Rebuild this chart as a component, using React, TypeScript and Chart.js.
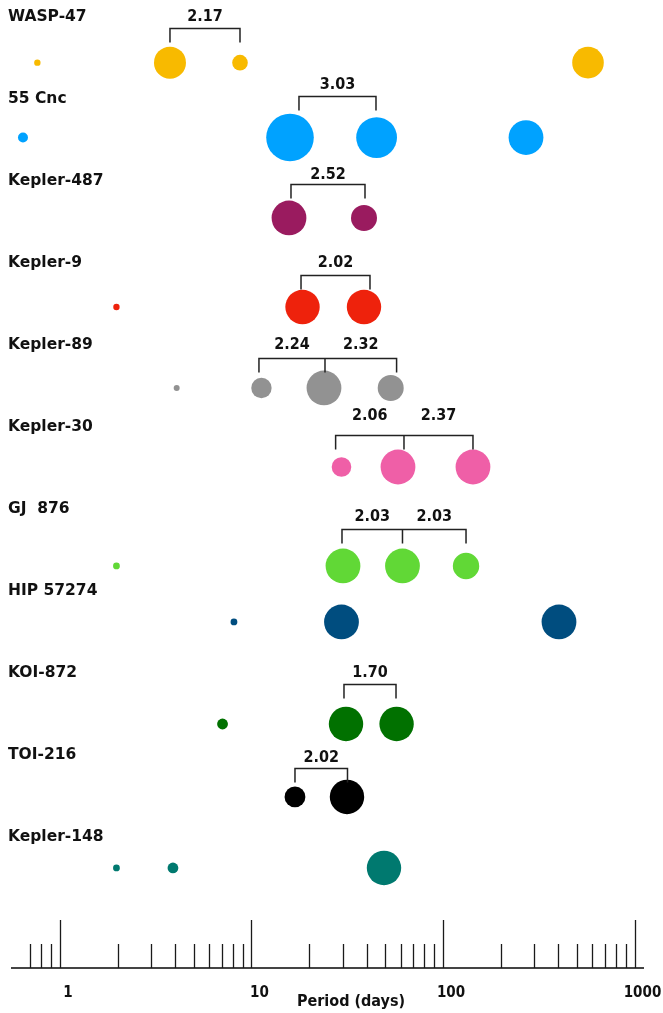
import React, { useEffect, useRef } from "react";
import { Chart, registerables } from "chart.js";

Chart.register(...registerables);

// ---- data ----
const systemNames = [
  "WASP-47",
  "55 Cnc",
  "Kepler-487",
  "Kepler-9",
  "Kepler-89",
  "Kepler-30",
  "GJ  876",
  "HIP 57274",
  "KOI-872",
  "TOI-216",
  "Kepler-148",
];

// vertical row (in row units) on which each system's planets sit
const planetRow = [0.557, 1.47, 2.451, 3.537, 4.524, 5.488, 6.695, 7.378, 8.622, 9.512, 10.378];

// orbital periods (days)
const planetPeriods: number[][] = [
  [0.762, 3.753, 8.71, 571.7],
  [0.641, 15.89, 45.01, 271.3],
  [15.7, 38.68],
  [1.972, 18.47, 38.68],
  [4.068, 11.27, 23.91, 53.33],
  [29.51, 58.21, 143.4],
  [1.972, 30.05, 61.44, 131.9],
  [8.1, 29.51, 403.4],
  [7.06, 31.16, 57.24],
  [16.87, 31.53],
  [1.972, 3.89, 49.19],
];

// relative planet sizes
const planetSizes: number[][] = [
  [1.6, 8.0, 3.9, 7.9],
  [2.5, 11.9, 10.2, 8.7],
  [8.7, 6.5],
  [1.6, 8.6, 8.6],
  [1.5, 5.1, 8.7, 6.5],
  [4.9, 8.7, 8.7],
  [1.7, 8.7, 8.7, 6.6],
  [1.7, 8.7, 8.7],
  [2.7, 8.6, 8.6],
  [5.2, 8.6],
  [1.7, 2.7, 8.6],
];

// period-ratio brackets
const bracketSystem = [0, 1, 2, 3, 4, 5, 6, 8, 9];
const bracketPeriods: number[][] = [
  [3.753, 8.71],
  [17.7, 44.68],
  [16.08, 39.15],
  [18.14, 41.57],
  [10.94, 24.2, 57.24],
  [27.5, 62.56, 143.4],
  [29.69, 61.44, 131.9],
  [30.41, 56.84],
  [16.87, 31.72],
];
const bracketRow = [0.134, 0.963, 2.037, 3.146, 4.159, 5.098, 6.244, 8.134, 9.159];
const ratioLabels: string[][] = [
  ["2.17"],
  ["3.03"],
  ["2.52"],
  ["2.02"],
  ["2.24", "2.32"],
  ["2.06", "2.37"],
  ["2.03", "2.03"],
  ["1.70"],
  ["2.02"],
];
const ratioRow = [0, 0.829, 1.927, 3.0, 4.0, 4.866, 6.1, 8.0, 9.037];

// axis
const tickValues = [
  0.7, 0.8, 0.9, 1, 2, 3, 4, 5, 6, 7, 8, 9, 10, 20, 30, 40, 50, 60, 70, 80, 90, 100,
  200, 300, 400, 500, 600, 700, 800, 900, 1000,
];
const tickLabels = [1, 10, 100, 1000];
const axisTitle = "Period (days)";
const xMin = 0.5617;
const xMax = 1107.5;

// ---- styles ----
const systemColors = [
  "#F8BA00",
  "#00A2FF",
  "#9A1B5F",
  "#EE220C",
  "#929292",
  "#EF5FA7",
  "#61D836",
  "#004D7F",
  "#017100",
  "#000000",
  "#00796F",
];
const CONDENSED = '"DejaVu Sans Condensed", "DejaVu Sans", sans-serif';
const SIZE_SCALE = 2;

const isMajor = (v: number) => {
  const lg = Math.log10(v);
  return Math.abs(lg - Math.round(lg)) < 1e-6;
};

const overlayPlugin = {
  id: "overlay",
  afterDraw(chart: any) {
    const ctx = chart.ctx as CanvasRenderingContext2D;
    const xs = chart.scales.x;
    const ys = chart.scales.y;
    const area = chart.chartArea;
    ctx.save();

    // upward tick marks
    ctx.strokeStyle = "#1a1a1a";
    ctx.lineWidth = 1.3;
    const base = area.bottom;
    xs.ticks.forEach((t: any) => {
      const px = Math.round(xs.getPixelForValue(t.value)) + 0.5;
      ctx.beginPath();
      ctx.moveTo(px, base);
      ctx.lineTo(px, base - (isMajor(t.value) ? 48 : 24));
      ctx.stroke();
    });

    // system names
    ctx.fillStyle = "#111";
    ctx.textAlign = "left";
    ctx.textBaseline = "middle";
    ctx.font = 'bold 15.5px "DejaVu Sans", sans-serif';
    systemNames.forEach((name, i) => {
      ctx.fillText(name, area.left - 4, ys.getPixelForValue(i));
    });

    // brackets and ratios
    ctx.strokeStyle = "#222";
    ctx.lineWidth = 1.5;
    ctx.font = "bold 16px " + CONDENSED;
    ctx.textAlign = "center";
    bracketSystem.forEach((s, b) => {
      const pts = bracketPeriods[b].map((p) => xs.getPixelForValue(p));
      const top = Math.round(ys.getPixelForValue(bracketRow[b])) + 0.5;
      const drop = 14;
      ctx.beginPath();
      ctx.moveTo(pts[0], top + drop);
      ctx.lineTo(pts[0], top);
      ctx.lineTo(pts[pts.length - 1], top);
      ctx.lineTo(pts[pts.length - 1], top + drop);
      for (let k = 1; k < pts.length - 1; k++) {
        ctx.moveTo(pts[k], top);
        ctx.lineTo(pts[k], top + drop);
      }
      ctx.stroke();
      const ly = ys.getPixelForValue(ratioRow[b]);
      ratioLabels[b].forEach((txt, k) => {
        ctx.fillText(txt, (pts[k] + pts[k + 1]) / 2, ly);
      });
    });

    // axis title
    ctx.font = "bold 16px " + CONDENSED;
    ctx.textAlign = "center";
    ctx.fillText(axisTitle, (area.left + area.right) / 2 + 23.5, 1002);
    ctx.restore();
  },
};

export default function App() {
  const ref = useRef<HTMLCanvasElement | null>(null);
  useEffect(() => {
    if (!ref.current) return;
    const datasets = systemNames.map((name, i) => ({
      label: name,
      data: planetPeriods[i].map((p, j) => ({
        x: p,
        y: planetRow[i],
        r: planetSizes[i][j] * SIZE_SCALE,
      })),
      backgroundColor: systemColors[i],
      borderWidth: 0,
      hoverRadius: 0,
      clip: false as any,
    }));
    const chart = new Chart(ref.current, {
      type: "bubble",
      data: { datasets },
      options: {
        animation: false,
        responsive: false,
        events: [],
        layout: { autoPadding: false, padding: { left: 12, right: 20, top: 0, bottom: -5 } },
        plugins: { legend: { display: false }, tooltip: { enabled: false } },
        scales: {
          x: {
            type: "logarithmic",
            min: xMin,
            max: xMax,
            afterBuildTicks: (scale: any) => {
              scale.ticks = tickValues.map((v) => ({ value: v }));
            },
            grid: { display: false, drawTicks: false },
            border: { display: true, color: "#444", width: 2 },
            ticks: {
              autoSkip: false,
              maxRotation: 0,
              minRotation: 0,
              padding: 0,
              labelOffset: 8,
              color: "#111",
              font: { family: CONDENSED, size: 15, weight: "bold", lineHeight: 50 / 15 },
              callback: (v: any) => (tickLabels.includes(Number(v)) ? String(v) : ""),
            },
            title: { display: false },
          },
          y: {
            type: "linear",
            display: false,
            reverse: true,
            min: -0.2073,
            max: 11.598,
          },
        },
      },
      plugins: [overlayPlugin],
    });
    return () => chart.destroy();
  }, []);
  return (
    <div style={{ position: "absolute", left: 0, top: 0, width: 663, height: 1013, background: "#fff" }}>
      <canvas ref={ref} width={663} height={1013} style={{ width: 663, height: 1013, display: "block" }} />
    </div>
  );
}
